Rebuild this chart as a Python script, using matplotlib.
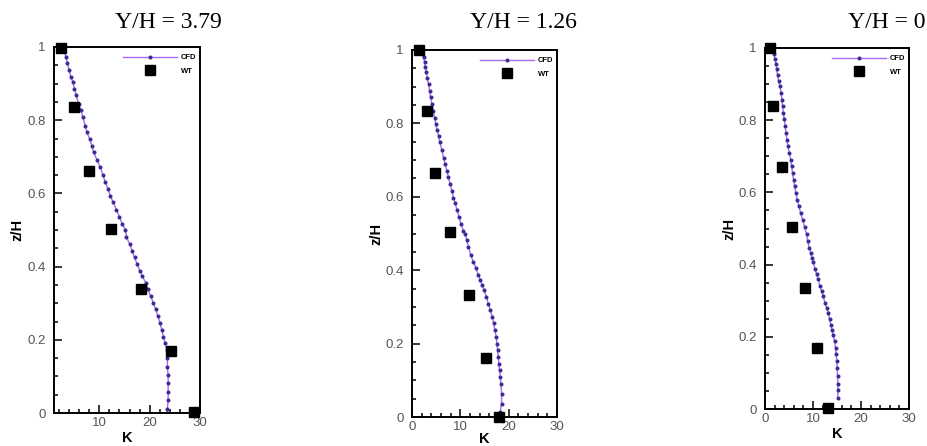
import matplotlib
matplotlib.use("Agg")
import matplotlib.pyplot as plt
from matplotlib.ticker import MultipleLocator, FuncFormatter

# ---- data ----
titles = ["Y/H = 3.79", "Y/H = 1.26", "Y/H = 0"]

# Y/H = 3.79
cfd1_k = [2.4, 2.87, 3.4, 3.67, 4.0, 4.33, 4.73, 5.07, 5.4, 5.87, 6.33, 6.73, 7.2, 7.53, 8.07,
          8.53, 8.87, 9.53, 10.2, 10.73, 11.2, 11.67, 12.2, 12.73, 13.4, 14.0, 14.53, 15.2,
          15.4, 16.07, 16.53, 17.0, 17.53, 18.07, 18.53, 19.2, 19.67, 20.2, 20.73, 21.2, 21.67,
          22.07, 22.4, 22.73, 23.07, 23.4, 23.53, 23.53, 23.67, 23.67, 23.67, 23.67, 23.53, 23.53]
cfd1_z = [1.0, 0.992, 0.973, 0.955, 0.937, 0.918, 0.905, 0.886, 0.868, 0.845, 0.827, 0.808, 0.785,
          0.767, 0.749, 0.730, 0.712, 0.692, 0.671, 0.650, 0.631, 0.613, 0.594, 0.576, 0.556,
          0.536, 0.517, 0.501, 0.480, 0.461, 0.443, 0.425, 0.406, 0.388, 0.374, 0.356, 0.338,
          0.319, 0.301, 0.283, 0.264, 0.246, 0.228, 0.209, 0.191, 0.172, 0.149, 0.126, 0.103,
          0.081, 0.058, 0.035, 0.012, 0.0]
wt1_k = [2.4, 4.9, 8.0, 12.3, 18.2, 24.2, 28.9]
wt1_z = [0.998, 0.836, 0.662, 0.503, 0.34, 0.17, 0.003]

# Y/H = 1.26
cfd2_k = [1.4, 2.4, 2.61, 2.75, 2.95, 3.16, 3.43, 3.64, 3.84, 4.12, 4.39, 4.67, 4.94, 5.22, 5.49,
          5.77, 6.18, 6.52, 6.86, 7.21, 7.55, 7.89, 8.24, 8.58, 8.92, 9.33, 9.75, 10.16, 10.64,
          10.98, 11.32, 11.67, 12.15, 12.70, 13.25, 13.73, 14.14, 14.55, 14.96, 15.37, 15.79,
          16.20, 16.61, 16.88, 17.16, 17.43, 17.57, 17.71, 17.84, 17.98, 18.12, 18.26, 18.39,
          18.53, 18.53, 18.26, 18.05]
cfd2_z = [1.0, 0.980, 0.966, 0.953, 0.939, 0.925, 0.907, 0.889, 0.871, 0.853, 0.835, 0.816, 0.798,
          0.782, 0.766, 0.748, 0.727, 0.707, 0.689, 0.671, 0.653, 0.635, 0.616, 0.598, 0.582,
          0.564, 0.544, 0.525, 0.507, 0.500, 0.482, 0.464, 0.441, 0.423, 0.405, 0.386, 0.373,
          0.359, 0.345, 0.327, 0.309, 0.291, 0.273, 0.255, 0.236, 0.218, 0.200, 0.182, 0.164,
          0.145, 0.127, 0.109, 0.091, 0.064, 0.036, 0.014, 0.0]
wt2_k = [1.4, 3.1, 4.8, 7.9, 11.7, 15.3, 18.0]
wt2_z = [1.0, 0.834, 0.664, 0.505, 0.332, 0.161, 0.0]

# Y/H = 0
cfd3_k = [1.39, 1.87, 2.08, 2.29, 2.43, 2.63, 2.84, 3.12, 3.33, 3.53, 3.67, 3.81, 4.02, 4.23, 4.37,
          4.57, 4.78, 5.06, 5.34, 5.54, 5.75, 5.96, 6.17, 6.44, 6.72, 7.07, 7.42, 7.83, 8.25,
          8.66, 8.87, 9.22, 9.49, 9.77, 10.05, 10.40, 10.74, 11.09, 11.43, 11.78, 12.13, 12.47,
          12.82, 13.17, 13.44, 13.72, 13.93, 14.21, 14.48, 14.69, 14.83, 14.97, 15.04, 15.11,
          15.18, 15.18, 15.18]
cfd3_z = [0.998, 0.982, 0.969, 0.955, 0.941, 0.924, 0.908, 0.894, 0.876, 0.857, 0.839, 0.820,
          0.802, 0.783, 0.765, 0.746, 0.728, 0.709, 0.691, 0.672, 0.654, 0.635, 0.617, 0.598,
          0.580, 0.561, 0.543, 0.524, 0.504, 0.484, 0.466, 0.447, 0.433, 0.419, 0.406, 0.389,
          0.373, 0.359, 0.341, 0.327, 0.313, 0.294, 0.281, 0.267, 0.250, 0.234, 0.220, 0.204,
          0.188, 0.169, 0.151, 0.132, 0.114, 0.091, 0.068, 0.054, 0.031]
wt3_k = [1.0, 1.7, 3.5, 5.7, 8.3, 10.9, 13.2]
wt3_z = [1.0, 0.84, 0.67, 0.503, 0.336, 0.17, 0.003]

cfd_k = [cfd1_k, cfd2_k, cfd3_k]
cfd_z = [cfd1_z, cfd2_z, cfd3_z]
wt_k = [wt1_k, wt2_k, wt3_k]
wt_z = [wt1_z, wt2_z, wt3_z]
xmins = [1, 0, 0]

# axes boxes in pixels: left, right, top, bottom
W, H = 928, 446
boxes = [(54, 200, 47, 413), (412, 557, 50, 417), (765, 909, 48, 409)]
title_x = [168, 523, 887]
klabel_y = [-0.05, -0.04, -0.05]

fig = plt.figure(figsize=(W / 100, H / 100), dpi=100)
plt.rcParams["font.family"] = "Liberation Sans"

for i in range(3):
    l, r, t, b = boxes[i]
    ax = fig.add_axes([l / W, (H - b) / H, (r - l) / W, (b - t) / H])
    ax.plot(cfd_k[i], cfd_z[i], color="#a86cf0", lw=1.0, marker="o", ms=1.9,
            mfc="#3f2a96", mec="#3f2a96", label="CFD", zorder=2)
    ax.plot(wt_k[i], wt_z[i], ls="none", marker="s", ms=6.5, color="black",
            label="WT", zorder=3, clip_on=False)
    ax.set_xlim(xmins[i], 30)
    ax.set_ylim(0, 1)
    ax.xaxis.set_major_locator(MultipleLocator(10))
    ax.xaxis.set_minor_locator(MultipleLocator(2))
    ax.yaxis.set_major_locator(MultipleLocator(0.2))
    ax.yaxis.set_minor_locator(MultipleLocator(0.05))
    ax.yaxis.set_major_formatter(FuncFormatter(lambda v, p: "%g" % round(v, 2)))
    ax.tick_params(which="both", direction="in", top=False, right=False,
                   labelsize=9.5, labelcolor="#555555", width=1.1)
    ax.tick_params(which="major", length=6)
    ax.tick_params(which="minor", length=3)
    ax.tick_params(axis="y", pad=6)
    ax.tick_params(axis="x", pad=3)
    for s in ax.spines.values():
        s.set_linewidth(1.4)
    ax.set_xlabel("K", fontsize=10.5, fontweight="bold")
    ax.set_ylabel("z/H", fontsize=10.5, fontweight="bold")
    ax.xaxis.set_label_coords(0.5, klabel_y[i])
    ax.yaxis.set_label_coords(-0.2, 0.5)
    leg = ax.legend(loc="upper right", bbox_to_anchor=(1.02, 1.0), fontsize=5.5,
                    frameon=False, handlelength=7, numpoints=1, labelspacing=0.8,
                    handletextpad=0.5, markerscale=1.0)
    for txt in leg.get_texts():
        txt.set_fontweight("bold")
    fig.text(title_x[i] / W, 1 - 22 / H, titles[i], ha="center", va="center",
             fontsize=17, family="Liberation Serif")

fig.savefig("out.png", dpi=100)
